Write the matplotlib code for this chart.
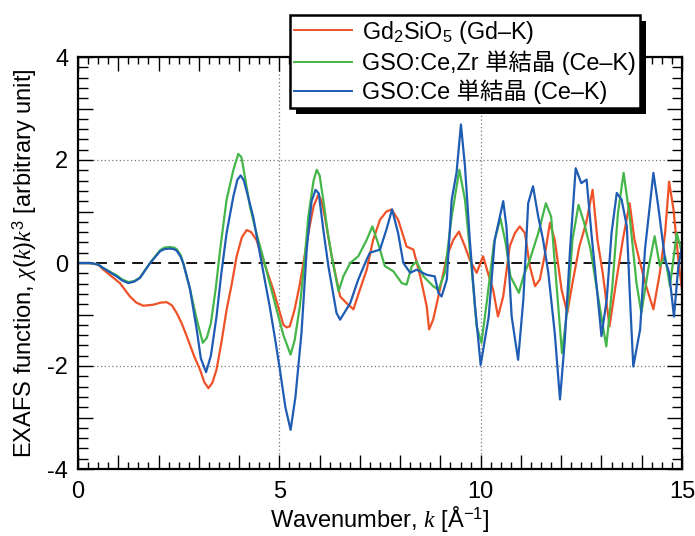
import matplotlib
matplotlib.use('Agg')
import matplotlib.pyplot as plt
from matplotlib.ticker import MultipleLocator, FuncFormatter
from matplotlib.patches import Rectangle

plt.rcParams['font.family'] = ['Liberation Sans', 'Noto Sans CJK JP']
plt.rcParams['mathtext.fontset'] = 'custom'
plt.rcParams['mathtext.rm'] = 'Liberation Sans'
plt.rcParams['mathtext.it'] = 'Liberation Serif:italic'
plt.rcParams['mathtext.bf'] = 'Liberation Sans:bold'

# Gd2SiO5 (Gd-K)
k_red = [0, 0.3, 0.5, 0.63, 0.85, 1.04, 1.29, 1.45, 1.62, 1.87, 2.05, 2.2,
         2.33, 2.45, 2.58, 2.7, 2.88, 3.03, 3.14, 3.24, 3.34, 3.44, 3.56, 3.69,
         3.82, 3.94, 4.07, 4.19, 4.3, 4.43, 4.6, 4.85, 5.1, 5.18, 5.26, 5.38,
         5.5, 5.62, 5.72, 5.85, 5.97, 6.05, 6.13, 6.3, 6.51, 6.67,
         6.84, 7.0, 7.17, 7.33, 7.5, 7.66, 7.79, 7.95, 8.16, 8.33,
         8.5, 8.66, 8.72, 8.82, 8.95, 9.16, 9.32, 9.46, 9.61, 9.73,
         9.9, 10.06, 10.18, 10.31, 10.43, 10.56, 10.72, 10.85, 10.97, 11.1,
         11.22, 11.35, 11.47, 11.6, 11.72, 11.84, 12.01, 12.15, 12.28, 12.45,
         12.62, 12.78, 12.9, 13.03, 13.2, 13.36, 13.53, 13.7, 13.82, 13.94,
         14.11, 14.29, 14.45, 14.58, 14.68, 14.79, 14.91, 15.0]
chi_red = [0, 0, -0.03, -0.13, -0.27, -0.39, -0.65, -0.77, -0.83, -0.81, -0.77, -0.76,
           -0.82, -0.97, -1.18, -1.42, -1.8, -2.07, -2.32, -2.43, -2.32, -2.07, -1.55, -0.91,
           -0.4, 0.13, 0.5, 0.64, 0.6, 0.45, 0.06, -0.52, -1.2, -1.25, -1.23, -0.9,
           -0.45, 0.1, 0.58, 1.1, 1.33, 1.2, 0.9, 0.13, -0.65, -0.78,
           -0.9, -0.52, -0.13, 0.45, 0.84, 1.0, 1.04, 0.84, 0.32, 0.26,
           -0.26, -0.84, -1.29, -1.1, -0.65, 0.13, 0.45, 0.61, 0.32, 0.06,
           -0.19, 0.13, -0.19, -0.52, -1.04, -0.65, 0.32, 0.58, 0.71, 0.58,
           -0.06, -0.45, -0.32, 0.19, 0.78, 0.45, -0.52, -0.97, -0.39, 0.32,
           0.78, 1.42, 0.45, -0.19, -1.23, -0.39, 0.45, 1.16, 0.45, 0.06,
           -0.45, -0.9, -0.19, 0.58, 1.58, 1.03, 0.06, -0.52]

# GSO:Ce,Zr single crystal (Ce-K)
k_green = [0, 0.3, 0.5, 0.63, 0.96, 1.1, 1.25, 1.4, 1.54, 1.79, 2.04, 2.15, 2.28,
           2.38, 2.45, 2.55, 2.62, 2.78, 2.95, 3.1, 3.2, 3.3, 3.42, 3.53, 3.69, 3.86, 3.98,
           4.06, 4.15, 4.27, 4.43, 4.6, 4.76, 4.93, 5.1, 5.28, 5.38, 5.51, 5.62, 5.72,
           5.85, 5.93, 6.0, 6.09, 6.2, 6.3,
           6.47, 6.59, 6.76, 6.96, 7.17, 7.31, 7.45, 7.62, 7.83, 8.04,
           8.16, 8.29, 8.41, 8.58, 8.82, 8.95, 9.11, 9.28, 9.47, 9.61,
           9.77, 9.9, 10.02, 10.16, 10.33, 10.49, 10.62, 10.74, 10.95, 11.06,
           11.22, 11.43, 11.62, 11.75, 11.88, 12.02, 12.16, 12.28, 12.43, 12.57,
           12.73, 12.9, 13.12, 13.27, 13.41, 13.55, 13.7, 13.87, 13.99, 14.16,
           14.32, 14.45, 14.58, 14.7, 14.87, 15.0]
chi_green = [0, 0, -0.03, -0.1, -0.24, -0.32, -0.37, -0.35, -0.28, 0.0, 0.25, 0.3, 0.31,
             0.3, 0.27, 0.15, -0.02, -0.5, -1.1, -1.55, -1.45, -1.17, -0.5, 0.26, 1.23, 1.81, 2.12,
             2.05, 1.65, 1.1, 0.58, 0.1, -0.39, -0.9, -1.4, -1.78, -1.5, -0.84, 0.0, 0.9,
             1.6, 1.81, 1.7, 1.23, 0.6, 0.13,
             -0.55, -0.26, 0.0, 0.13, 0.45, 0.71, 0.39, -0.06, -0.16, -0.39,
             -0.42, -0.06, 0.03, -0.26, -0.45, -0.52, -0.19, 0.9, 1.81, 1.23,
             -0.06, -1.23, -1.55, -0.71, 0.39, 0.87, 0.39, -0.26, -0.58, -0.26,
             0.06, 0.58, 1.16, 0.9, -0.39, -1.75, -0.84, 0.45, 1.13, 0.78,
             0.26, -0.58, -1.62, -0.45, 0.97, 1.75, 0.9, -0.39, -0.97, -0.13,
             0.52, -0.06, 0.13, -0.45, 0.58, 0.19]

# GSO:Ce single crystal (Ce-K)
k_blue = [0, 0.3, 0.5, 0.63, 0.96, 1.1, 1.25, 1.4, 1.54, 1.79, 2.04, 2.15, 2.28,
          2.38, 2.45, 2.55, 2.62, 2.78, 2.95, 3.05, 3.18, 3.3, 3.44, 3.56, 3.69, 3.86, 3.96,
          4.04, 4.12, 4.22, 4.35, 4.56, 4.76, 4.9, 5.0, 5.15, 5.28, 5.4, 5.55, 5.68,
          5.8, 5.9, 5.98, 6.1, 6.22, 6.42,
          6.51, 6.76, 6.96, 7.17, 7.25, 7.5, 7.66, 7.8, 7.95, 8.08,
          8.25, 8.41, 8.66, 8.86, 8.95, 9.03, 9.16, 9.28, 9.4, 9.51,
          9.61, 9.73, 9.86, 10.0, 10.2, 10.35, 10.56, 10.64, 10.77, 10.93,
          11.06, 11.18, 11.3, 11.43, 11.55, 11.68, 11.84, 11.97, 12.09, 12.22,
          12.36, 12.5, 12.63, 12.75, 12.88, 13.0, 13.13, 13.25, 13.38, 13.5,
          13.63, 13.71, 13.79, 13.96, 14.08, 14.29, 14.41, 14.58, 14.68, 14.8,
          14.91, 15.0]
chi_blue = [0, 0, -0.03, -0.1, -0.26, -0.34, -0.39, -0.36, -0.29, 0.0, 0.23, 0.27, 0.28,
            0.27, 0.24, 0.12, -0.02, -0.5, -1.3, -1.85, -2.12, -1.8, -1.04, -0.2, 0.58, 1.3, 1.62,
            1.7, 1.6, 1.3, 0.9, 0.0, -0.84, -1.5, -2.0, -2.8, -3.24, -2.6, -1.36, 0.26,
            1.2, 1.42, 1.35, 0.6, -0.07, -0.97,
            -1.1, -0.78, -0.32, 0.07, 0.2, 0.26, 0.65, 1.04, 0.58, 0.0,
            -0.19, -0.13, -0.23, -0.26, -0.58, -0.65, -0.32, 1.23, 1.75, 2.69,
            1.88, 0.45, -0.84, -1.98, -1.04, 0.45, 1.2, 0.71, -1.04, -1.88,
            -0.71, 1.16, 1.49, 0.9, 0.45, -0.19, -1.36, -2.65, -1.49, 0.26,
            1.84, 1.55, 1.62, 0.58, -0.45, -1.42, -0.71, 0.58, 1.36, 1.23,
            0.71, -0.71, -2.01, -1.29, 0.26, 1.75, 1.1, 0.06, -0.19, -1.04,
            -0.06, 0.32]

labels = ['Gd$_2$SiO$_5$ (Gd\u2013K)',
          'GSO:Ce,Zr 単結晶 (Ce\u2013K)',
          'GSO:Ce 単結晶 (Ce\u2013K)']
colors = ['#ef5228', '#45b649', '#1f5cb4']

fig = plt.figure(figsize=(6.95, 5.36), dpi=100)
ax = fig.add_axes([78/695, 1 - 469/536, 604/695, 412/536])

# reference lines
for xv in [5, 10]:
    ax.axvline(xv, color='#777777', lw=0.9, ls=(0, (1, 2)), zorder=1)
for yv in [2, -2]:
    ax.axhline(yv, color='#777777', lw=0.9, ls=(0, (1, 2)), zorder=1)
ax.axhline(0, color='black', lw=1.3, ls=(0, (6, 4)), zorder=1)

lines = []
for kk, vv, c in [(k_red, chi_red, colors[0]),
                  (k_green, chi_green, colors[1]),
                  (k_blue, chi_blue, colors[2])]:
    ln, = ax.plot(kk, vv, color=c, lw=1.6, zorder=2)
    lines.append(ln)

ax.set_xlim(0, 15)
ax.set_ylim(-4, 4)

ax.xaxis.set_major_locator(MultipleLocator(1))
ax.xaxis.set_minor_locator(MultipleLocator(0.25))
ax.yaxis.set_major_locator(MultipleLocator(1))
ax.yaxis.set_minor_locator(MultipleLocator(0.2))
ax.xaxis.set_major_formatter(FuncFormatter(lambda v, p: '%d' % v if round(v) % 5 == 0 else ''))
ax.yaxis.set_major_formatter(FuncFormatter(lambda v, p: '%d' % v if round(v) % 2 == 0 else ''))

ax.tick_params(which='both', direction='in', top=True, right=True, width=1.0, colors='black')
ax.tick_params(axis='x', which='major', length=10, pad=9, labelsize=17)
ax.tick_params(axis='x', which='minor', length=5)
ax.tick_params(axis='y', which='major', length=11, pad=7, labelsize=17)
ax.tick_params(axis='y', which='minor', length=7)
for s in ax.spines.values():
    s.set_linewidth(1.6)

ax.set_xlabel('Wavenumber, $k$ [Å$^{-1}$]', fontsize=17, labelpad=0)
ax.set_ylabel('EXAFS function, $\\chi(k)k^3$ [arbitrary unit]', fontsize=17, labelpad=6)

leg = fig.legend(lines, labels, loc='upper left',
                 bbox_to_anchor=(290/695, 1 - 15/536), bbox_transform=fig.transFigure,
                 frameon=True, fancybox=False, framealpha=1, edgecolor='black',
                 borderaxespad=0, borderpad=0.15, labelspacing=0.2,
                 handlelength=2.5, handletextpad=0.45, fontsize=16.8)
leg.get_frame().set_linewidth(1.8)
for h in leg.get_lines():
    h.set_linewidth(1.4)
leg.set_zorder(5)

# solid black drop shadow behind the legend box
fig.canvas.draw()
bb = leg.get_window_extent()
W, H = fig.bbox.width, fig.bbox.height
shadow = Rectangle(((bb.x0 + 6) / W, (bb.y0 - 6) / H), bb.width / W, bb.height / H,
                   transform=fig.transFigure, facecolor='black', edgecolor='none', zorder=4)
fig.add_artist(shadow)

fig.savefig('out.png', dpi=100)
